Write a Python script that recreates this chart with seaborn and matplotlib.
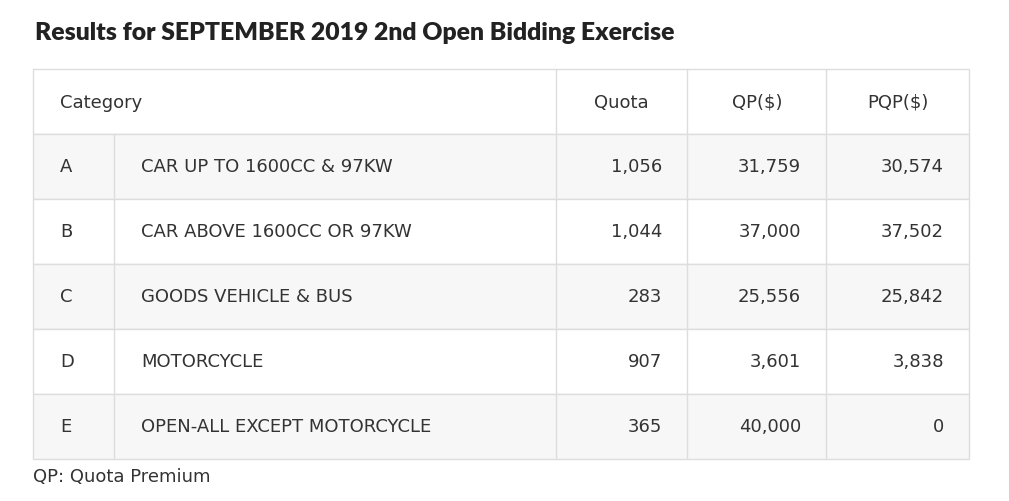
import matplotlib
matplotlib.use("Agg")
import matplotlib.pyplot as plt
import seaborn as sns
from matplotlib.patches import Rectangle

sns.set_theme(style="white")

title = "Results for SEPTEMBER 2019 2nd Open Bidding Exercise"
headers = ["Category", "Quota", "QP($)", "PQP($)"]
codes = ["A", "B", "C", "D", "E"]
descriptions = ["CAR UP TO 1600CC & 97KW", "CAR ABOVE 1600CC OR 97KW",
                "GOODS VEHICLE & BUS", "MOTORCYCLE", "OPEN-ALL EXCEPT MOTORCYCLE"]
quota = ["1,056", "1,044", "283", "907", "365"]
qp = ["31,759", "37,000", "25,556", "3,601", "40,000"]
pqp = ["30,574", "37,502", "25,842", "3,838", "0"]
footnote = "QP: Quota Premium"

W, H = 1009, 502
fig = plt.figure(figsize=(W / 100, H / 100), dpi=100)
ax = fig.add_axes([0, 0, 1, 1])
ax.set_xlim(0, W)
ax.set_ylim(H, 0)
ax.axis("off")

txt = "#333333"
border = "#dddddd"
fs = 13
left, right = 33, 969
cols = [33, 114, 556, 687, 826, 969]
top, rowh = 70, 65

# title
t = ax.text(35, 33, title, fontsize=19, fontweight="heavy", family="Lato",
            color="#222222", va="center", ha="left")
fig.canvas.draw()
bb = t.get_window_extent()
target = 673 - 35
if bb.width > 0:
    t.set_fontsize(19 * target / bb.width)

# header
ax.add_patch(Rectangle((left, top), right - left, rowh, facecolor="white", edgecolor=border, lw=1))
hy = top + rowh / 2
ax.text(60, hy, headers[0], fontsize=fs, color=txt, va="center")
ax.text(621, hy, headers[1], fontsize=fs, color=txt, va="center", ha="center")
ax.text(757, hy, headers[2], fontsize=fs, color=txt, va="center", ha="center")
ax.text(898, hy, headers[3], fontsize=fs, color=txt, va="center", ha="center")
for x in cols[2:5]:
    ax.plot([x, x], [top, top + rowh], color=border, lw=1)

for i, code in enumerate(codes):
    y0 = top + rowh * (i + 1)
    fc = "#f7f7f7" if i % 2 == 0 else "white"
    ax.add_patch(Rectangle((left, y0), right - left, rowh, facecolor=fc, edgecolor=border, lw=1))
    for x in cols[1:5]:
        ax.plot([x, x], [y0, y0 + rowh], color=border, lw=1)
    yc = y0 + rowh / 2
    ax.text(60, yc, code, fontsize=fs, color=txt, va="center")
    ax.text(141, yc, descriptions[i], fontsize=fs, color=txt, va="center")
    ax.text(662, yc, quota[i], fontsize=fs, color=txt, va="center", ha="right")
    ax.text(801, yc, qp[i], fontsize=fs, color=txt, va="center", ha="right")
    ax.text(944, yc, pqp[i], fontsize=fs, color=txt, va="center", ha="right")

ax.text(33, 477, footnote, fontsize=fs, color=txt, va="center")

fig.savefig("out.png", dpi=100)
